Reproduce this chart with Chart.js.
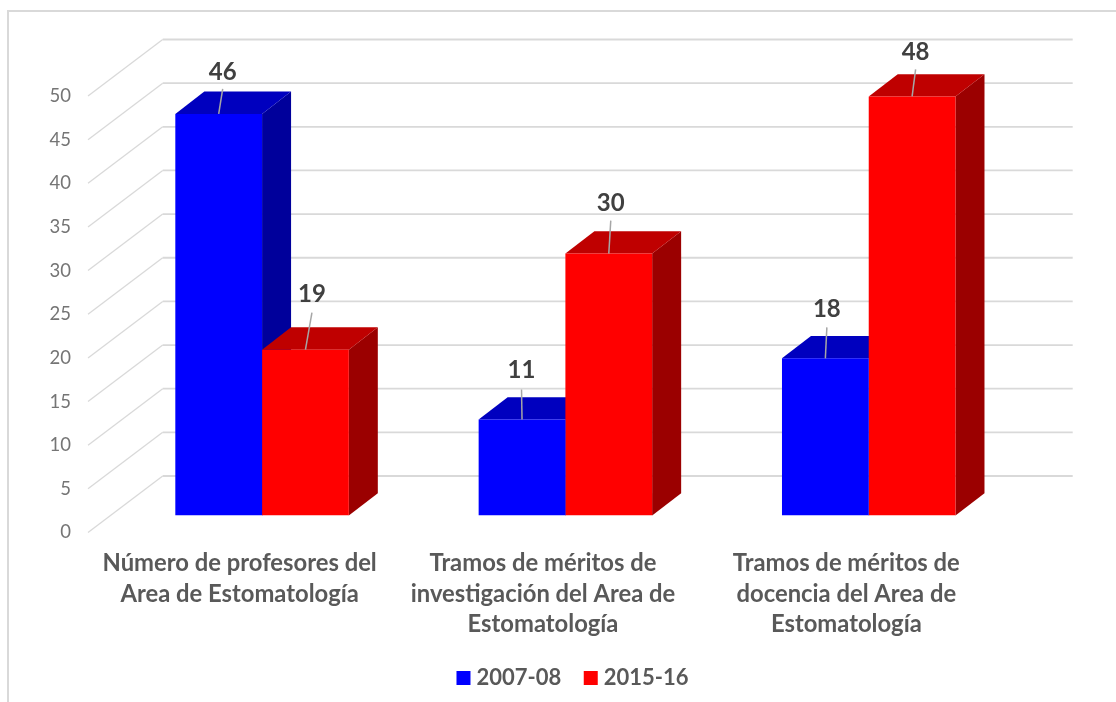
<!DOCTYPE html>
<html lang="es">
<head>
<meta charset="utf-8">
<title>Estomatología</title>
<style>
html,body{margin:0;padding:0;background:#fff;overflow:hidden}
canvas{display:block}
</style>
<script src="https://cdn.jsdelivr.net/npm/chart.js@4"></script>
</head>
<body>
<canvas id="c" width="1116" height="702"></canvas>
<script>
const categories = [
  ['Número de profesores del', 'Area de Estomatología'],
  ['Tramos de méritos de', 'investigación del Area de', 'Estomatología'],
  ['Tramos de méritos de', 'docencia del Area de', 'Estomatología']
];
const seriesNames = ['2007-08', '2015-16'];
const values2007 = [46, 11, 18];
const values2015 = [19, 30, 48];
const frontColors = ['#0000ff', '#ff0000'];
const topColors = ['#0000bf', '#bf0000'];
const sideColors = ['#00009b', '#9b0000'];

const FONT = 'Lato, Carlito, Calibri, sans-serif';
const GRID = '#d9d9d9';
const WALL = {dx: 74.7, dy: -56.5};      // front wall to back wall
const BAR_SHIFT = {dx: 22.4, dy: -17};   // front wall to bar front plane
const DEPTH = {dx: 29, dy: -22.3};       // bar depth
// label offset from the top centre of each bar [dx, dy to text centre, leader top dy]
const labelOffsets = [
  [[4, -41.5, -25], [-0.5, -49, -30], [1.5, -49, -31]],
  [[6.5, -55.5, -37], [2, -50.5, -33], [3.5, -44, -27]]
];

const poly = (ctx, pts, fill) => {
  ctx.beginPath();
  pts.forEach((p, i) => i ? ctx.lineTo(p[0], p[1]) : ctx.moveTo(p[0], p[1]));
  ctx.closePath();
  ctx.fillStyle = fill;
  ctx.fill();
};

const frame3d = {
  id: 'frame3d',
  beforeDraw(chart) {
    const {ctx} = chart;
    ctx.save();
    ctx.fillStyle = '#fff';
    ctx.fillRect(0, 0, chart.width, chart.height);
    ctx.strokeStyle = GRID;
    ctx.lineWidth = 2;
    ctx.beginPath();
    ctx.moveTo(8, chart.height);
    ctx.lineTo(8, 11);
    ctx.lineTo(chart.width, 11);
    ctx.stroke();
    ctx.restore();
  },
  beforeDatasetsDraw(chart) {
    const {ctx, chartArea, scales} = chart;
    ctx.save();
    // back wall and side wall gridlines
    scales.y.ticks.forEach(t => {
      const y = scales.y.getPixelForValue(t.value);
      const bx = chartArea.left + WALL.dx, by = y + WALL.dy;
      ctx.strokeStyle = GRID;
      ctx.lineWidth = 1.3;
      ctx.beginPath();
      ctx.moveTo(chartArea.left, y);
      ctx.lineTo(bx, by);
      ctx.stroke();
      ctx.lineWidth = 1.8;
      ctx.beginPath();
      ctx.moveTo(bx, by);
      ctx.lineTo(chartArea.right + WALL.dx, by);
      ctx.stroke();
    });
    ctx.restore();
    // everything in the dataset layer sits on the bar plane
    ctx.save();
    ctx.translate(BAR_SHIFT.dx, BAR_SHIFT.dy);
    [0, 1].forEach(d => {
      chart.getDatasetMeta(d).data.forEach(bar => {
        const p = bar.getProps(['x', 'y', 'base', 'width'], true);
        const l = p.x - p.width / 2, r = p.x + p.width / 2;
        poly(ctx, [[r, p.y], [r + DEPTH.dx, p.y + DEPTH.dy], [r + DEPTH.dx, p.base + DEPTH.dy], [r, p.base]], sideColors[d]);
        poly(ctx, [[l, p.y], [l + DEPTH.dx, p.y + DEPTH.dy], [r + DEPTH.dx, p.y + DEPTH.dy], [r, p.y]], topColors[d]);
      });
    });
  },
  afterDatasetsDraw(chart) {
    const {ctx} = chart;
    [0, 1].forEach(d => {
      chart.getDatasetMeta(d).data.forEach((bar, i) => {
        const p = bar.getProps(['x', 'y'], true);
        const o = labelOffsets[d][i];
        ctx.strokeStyle = '#a6a6a6';
        ctx.lineWidth = 1.5;
        ctx.beginPath();
        ctx.moveTo(p.x, p.y);
        ctx.lineTo(p.x + o[0], p.y + o[2]);
        ctx.stroke();
        ctx.fillStyle = '#404040';
        ctx.font = 'bold 24px ' + FONT;
        ctx.textAlign = 'center';
        ctx.textBaseline = 'middle';
        ctx.fillText(chart.data.datasets[d].data[i], p.x + o[0], p.y + o[1]);
      });
    });
    ctx.restore();
  },
  afterLayout(chart) {
    const lg = chart.legend;
    lg.left += 76; lg.right += 76;
    lg.top -= 3; lg.bottom -= 3;
  }
};

new Chart(document.getElementById('c'), {
  type: 'bar',
  data: {
    labels: categories,
    datasets: [
      {label: seriesNames[0], data: values2007, backgroundColor: frontColors[0]},
      {label: seriesNames[1], data: values2015, backgroundColor: frontColors[1]}
    ]
  },
  options: {
    responsive: false,
    animation: false,
    events: [],
    layout: {autoPadding: false, padding: {left: 0, right: 118, top: 96, bottom: 0}},
    categoryPercentage: 0.572,
    barPercentage: 1,
    scales: {
      x: {
        grid: {display: false, drawTicks: false},
        border: {display: false},
        afterFit(a) { a.height = 110; },
        ticks: {
          font: {family: FONT, size: 23.8, weight: 'bold', lineHeight: 1.28},
          color: '#595959',
          padding: 16,
          maxRotation: 0,
          autoSkip: false
        }
      },
      y: {
        min: 0,
        max: 50,
        afterFit(a) { a.width = 88; },
        grid: {display: false, drawTicks: false},
        border: {display: false},
        ticks: {
          stepSize: 5,
          font: {family: FONT, size: 18.5},
          color: '#757575',
          padding: 17
        }
      }
    },
    plugins: {
      tooltip: {enabled: false},
      legend: {
        position: 'bottom',
        labels: {
          usePointStyle: true,
          pointStyle: 'rect',
          boxWidth: 4,
          boxHeight: 14,
          padding: 27.5,
          color: '#595959',
          font: {family: FONT, size: 22, weight: 'bold'}
        }
      }
    }
  },
  plugins: [frame3d]
});
</script>
</body>
</html>
